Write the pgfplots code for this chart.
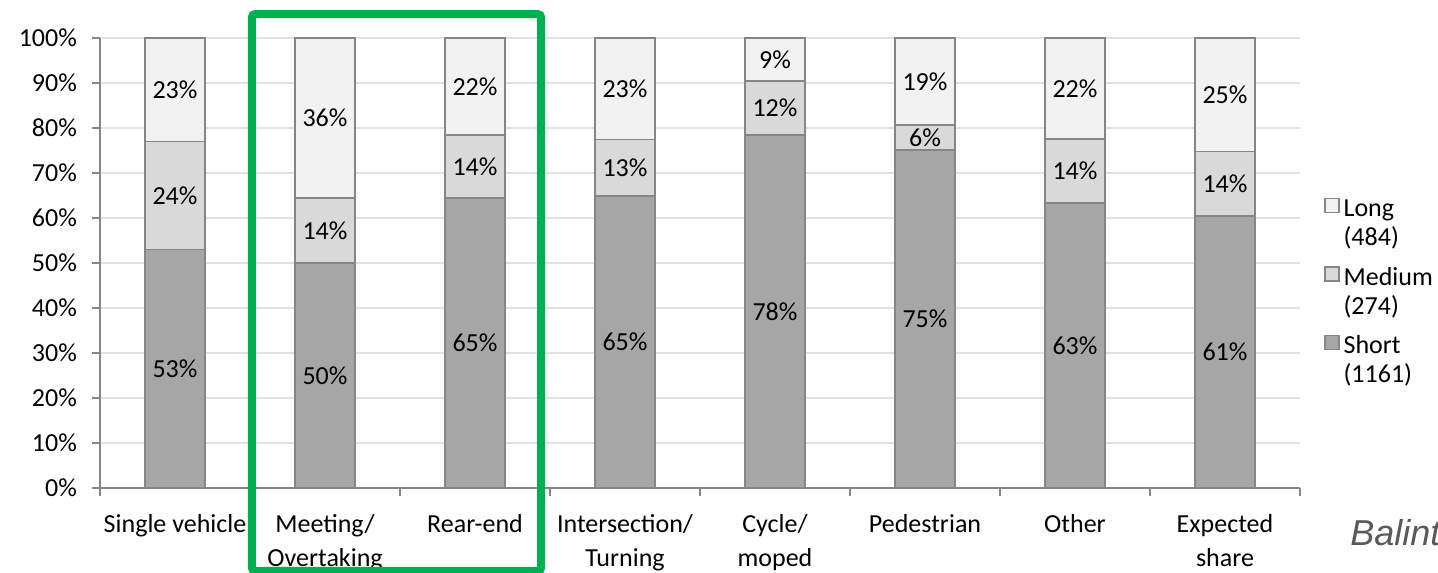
\documentclass[border=0pt]{standalone}
\usepackage{pgfplots}
\pgfplotsset{compat=1.18}
\usepackage{fontspec}
\setmainfont{Carlito}
\newfontfamily\arialfont{Liberation Sans}
\definecolor{cLong}{RGB}{242,242,242}
\definecolor{cMed}{RGB}{217,217,217}
\definecolor{cShort}{RGB}{166,166,166}
\definecolor{cEdge}{RGB}{134,134,134}
\definecolor{cGrid}{RGB}{226,226,226}
\definecolor{cGreen}{RGB}{0,176,80}
\definecolor{cBal}{RGB}{89,89,89}
\pgfplotsset{base/.style={width=600pt,height=225pt,scale only axis,
  xmin=-0.5,xmax=7.5,ymin=0,ymax=100}}
\begin{document}
\begin{tikzpicture}
\begin{axis}[base,
  ybar stacked, bar width=0.4,
  axis x line*=bottom, axis y line*=left,
  axis line style={cEdge, line width=0.8pt},
  tick style={cEdge, line width=0.8pt},
  major tick length=4pt, tick align=outside,
  ytick={0,10,...,100},
  yticklabels={0\%,10\%,20\%,30\%,40\%,50\%,60\%,70\%,80\%,90\%,100\%},
  yticklabel style={xshift=-4pt},
  xtick={-0.5,0.5,...,7.5},
  xticklabels={},
  extra x ticks={0,1,...,7},
  extra x tick labels={Single vehicle,Meeting/\\Overtaking,Rear-end,Intersection/\\Turning,Cycle/\\moped,Pedestrian,Other,Expected\\share},
  extra x tick style={major tick length=0pt, grid=none},
  xticklabel style={align=center, anchor=north, yshift=-9.5pt},
  ticklabel style={font=\fontsize{13}{17}\selectfont, text=black},
  ymajorgrids, grid style={cGrid, line width=0.8pt},
  reverse legend,
  legend style={draw=none, fill=none, at={(1.015,0.667)}, anchor=north west,
    font=\fontsize{13}{14.5}\selectfont, row sep=4.2pt,
    cells={anchor=west}},
  legend image code/.code={\draw[#1, line width=0.6pt] (-2pt,5pt) rectangle (5pt,12pt);},
]
\addplot[fill=cShort, draw=cEdge, line width=0.8pt] coordinates {
 (0,53) (1,50) (2,64.4) (3,64.9) (4,78.4) (5,75.1) (6,63.3) (7,60.4)};
\addplot[fill=cMed, draw=cEdge, line width=0.8pt] coordinates {
 (0,24) (1,14.4) (2,14.0) (3,12.5) (4,12.0) (5,5.6) (6,14.2) (7,14.4)};
\addplot[fill=cLong, draw=cEdge, line width=0.8pt] coordinates {
 (0,23) (1,35.6) (2,21.6) (3,22.6) (4,9.6) (5,19.3) (6,22.5) (7,25.2)};
\addlegendentry{\begin{tabular}[b]{@{}l@{}}Short\\(1161)\end{tabular}}
\addlegendentry{\begin{tabular}[b]{@{}l@{}}Medium\\(274)\end{tabular}}
\addlegendentry{\begin{tabular}[b]{@{}l@{}}Long\\(484)\end{tabular}}
\end{axis}
\begin{axis}[base, hide axis, clip=false]
\addplot[draw=none, mark=none, point meta=explicit symbolic,
  nodes near coords={\pgfplotspointmeta\%},
  nodes near coords align={anchor=center},
  every node near coord/.append style={font=\fontsize{13}{15}\selectfont, text=black}]
 table[meta=l] {
x y l
0 26.5 53
0 65 24
0 88.5 23
1 25 50
1 57.2 14
1 82.2 36
2 32.2 65
2 71.4 14
2 89.2 22
3 32.45 65
3 71.15 13
3 88.7 23
4 39.2 78
4 84.4 12
4 95.2 9
5 37.55 75
5 77.9 6
5 90.35 19
6 31.65 63
6 70.4 14
6 88.75 22
7 30.2 61
7 67.6 14
7 87.4 25
};
\draw[cGreen, line width=4pt, rounded corners=1.5pt] (axis cs:0.513,105.3) rectangle (axis cs:2.44,-18.4);
\node[anchor=base west, inner sep=0pt, font=\arialfont\itshape\fontsize{18}{21}\selectfont, text=cBal] at (axis cs:7.833,-12.67) {Balint};
\coordinate (bl) at (rel axis cs:0,0);
\coordinate (tr) at (rel axis cs:1,1);
\end{axis}
\pgfresetboundingbox
\path[use as bounding box] ([shift={(-50pt,-42pt)}]bl) rectangle ([shift={(69pt,19pt)}]tr);
\end{tikzpicture}
\end{document}
